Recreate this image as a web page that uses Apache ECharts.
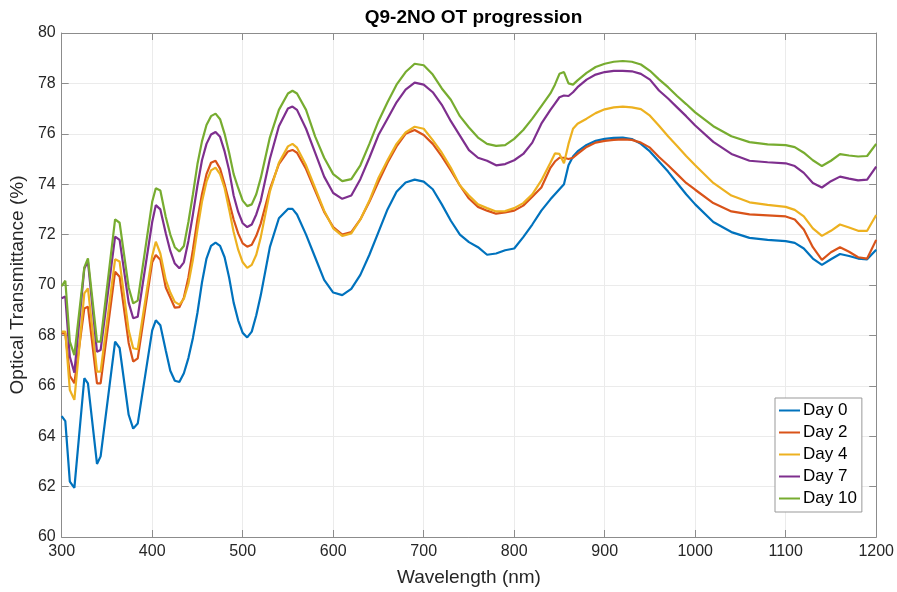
<!DOCTYPE html>
<html>
<head>
<meta charset="utf-8">
<script src="https://cdn.jsdelivr.net/npm/echarts@6/dist/echarts.min.js"></script>
<style>
  html, body { margin: 0; padding: 0; background: #fff; }
  #chart { width: 897px; height: 592px; }
</style>
</head>
<body>
<div id="chart"></div>
<script>
// Wavelength grid (nm) shared by all measurements
const wavelength = [300,304,309,314,325,329,339,343,359,364,374,379,384,400,404,409,415,420,425,430,435,440,445,450,455,460,465,470,475,480,485,490,495,500,505,510,515,520,530,540,550,555,560,570,580,590,600,610,620,630,640,650,660,670,680,690,700,710,720,730,740,750,760,770,780,790,800,810,820,830,840,845,850,855,860,865,870,880,890,900,910,920,930,940,950,960,970,980,990,1000,1020,1040,1060,1080,1100,1110,1120,1130,1140,1150,1160,1170,1180,1190,1200];

// Optical transmittance (%) per measurement day
const day0 = [64.8,64.6,62.2,61.95,66.3,66.1,62.9,63.2,67.75,67.5,64.85,64.3,64.5,68.2,68.6,68.4,67.4,66.6,66.2,66.15,66.5,67.1,67.9,68.9,70.1,71.05,71.55,71.68,71.55,71.1,70.3,69.3,68.6,68.1,67.92,68.15,68.8,69.6,71.5,72.65,73.02,73.02,72.8,72.0,71.1,70.2,69.7,69.6,69.85,70.4,71.2,72.1,73.0,73.7,74.07,74.18,74.1,73.8,73.2,72.55,72.0,71.7,71.5,71.2,71.25,71.38,71.45,71.9,72.4,72.95,73.4,73.6,73.8,74.0,74.75,75.1,75.3,75.56,75.72,75.8,75.84,75.85,75.79,75.6,75.3,74.9,74.5,74.05,73.6,73.2,72.5,72.1,71.87,71.79,71.74,71.67,71.45,71.05,70.8,71.02,71.23,71.15,71.05,71.02,71.4];
const day2 = [68.08,68.08,66.4,66.1,69.07,69.14,66.1,66.1,70.53,70.33,67.7,66.96,67.09,70.9,71.19,71.0,69.9,69.5,69.1,69.12,69.5,70.3,71.4,72.6,73.6,74.4,74.85,74.93,74.62,74.0,73.3,72.6,72.05,71.65,71.52,71.6,71.95,72.45,73.8,74.8,75.3,75.36,75.25,74.6,73.75,72.9,72.3,72.0,72.1,72.6,73.3,74.1,74.85,75.5,76.0,76.15,75.95,75.6,75.1,74.55,73.95,73.43,73.1,72.95,72.83,72.88,72.95,73.15,73.5,73.87,74.65,74.9,75.05,75.05,75.0,75.05,75.2,75.48,75.65,75.72,75.76,75.78,75.76,75.65,75.45,75.08,74.75,74.4,74.05,73.78,73.25,72.92,72.8,72.76,72.72,72.6,72.2,71.5,71.0,71.3,71.5,71.32,71.1,71.05,71.79];
const day4 = [68.15,68.15,65.83,65.44,69.67,69.87,66.56,66.56,71.02,70.93,68.2,67.49,67.45,71.15,71.72,71.25,70.2,69.7,69.33,69.22,69.45,70.05,71.0,72.2,73.3,74.1,74.55,74.66,74.4,73.85,73.0,72.1,71.4,70.9,70.68,70.8,71.2,71.9,73.7,74.85,75.5,75.6,75.45,74.75,73.85,72.95,72.25,71.95,72.05,72.6,73.35,74.25,74.95,75.6,76.05,76.28,76.2,75.75,75.25,74.65,73.95,73.55,73.2,73.05,72.92,72.93,73.05,73.25,73.6,74.15,74.85,75.22,75.2,74.83,75.6,76.2,76.4,76.6,76.82,76.97,77.05,77.08,77.05,76.98,76.72,76.32,75.9,75.52,75.12,74.75,74.05,73.55,73.28,73.18,73.1,72.98,72.72,72.25,71.95,72.15,72.4,72.28,72.15,72.15,72.78];
const day7 = [69.47,69.54,67.15,66.52,70.66,70.93,67.35,67.42,71.92,71.79,69.3,68.68,68.74,72.5,73.17,73.0,72.05,71.35,70.85,70.66,70.9,71.75,72.8,73.95,74.95,75.6,75.97,76.07,75.88,75.3,74.55,73.55,72.9,72.45,72.3,72.4,72.8,73.35,75.0,76.3,77.0,77.08,76.95,76.2,75.25,74.3,73.65,73.42,73.55,74.2,75.05,75.95,76.6,77.25,77.75,78.03,77.95,77.65,77.15,76.5,75.93,75.35,75.05,74.93,74.75,74.8,74.95,75.2,75.65,76.4,76.95,77.2,77.45,77.52,77.5,77.65,77.85,78.15,78.35,78.45,78.5,78.5,78.48,78.38,78.15,77.72,77.4,77.05,76.7,76.33,75.68,75.2,74.93,74.87,74.83,74.72,74.45,74.05,73.87,74.12,74.3,74.22,74.15,74.18,74.7];
const day10 = [69.96,70.17,67.75,67.22,70.7,71.06,67.75,67.75,72.6,72.47,69.9,69.27,69.38,73.3,73.84,73.75,72.7,72.0,71.5,71.33,71.55,72.5,73.6,74.8,75.7,76.35,76.7,76.8,76.58,76.0,75.25,74.4,73.85,73.35,73.13,73.2,73.6,74.25,75.85,76.95,77.6,77.71,77.6,76.95,75.9,75.05,74.4,74.12,74.2,74.75,75.6,76.5,77.25,77.95,78.45,78.78,78.72,78.35,77.8,77.35,76.7,76.25,75.85,75.6,75.52,75.55,75.8,76.15,76.6,77.1,77.6,77.95,78.38,78.45,78.0,77.95,78.12,78.42,78.65,78.78,78.86,78.89,78.86,78.75,78.5,78.16,77.85,77.5,77.18,76.85,76.3,75.9,75.67,75.58,75.55,75.47,75.25,74.95,74.72,74.93,75.19,75.14,75.1,75.12,75.6];

const seriesNames = ['Day 0', 'Day 2', 'Day 4', 'Day 7', 'Day 10'];
const seriesValues = [day0, day2, day4, day7, day10];
const seriesColors = ['#0072BD', '#D95319', '#EDB120', '#7E2F8E', '#77AC30'];

const xTicks = { min: 300, max: 1200, step: 100 };
const yTicks = { min: 60, max: 80, step: 2 };

const FONT = '"Liberation Sans", Arial, Helvetica, sans-serif';
const AXIS_COLOR = '#8c8c8c';
const GRID_COLOR = '#ebebeb';
const TEXT_COLOR = '#262626';

const chart = echarts.init(document.getElementById('chart'), null, { renderer: 'canvas' });

const axisBase = {
  axisLine: { show: true, onZero: false, lineStyle: { color: AXIS_COLOR, width: 1 } },
  axisTick: { show: true, inside: true, length: 7, lineStyle: { color: AXIS_COLOR } },
  splitLine: { show: false }
};

const plainNumber = v => String(v);

chart.setOption({
  animation: false,
  backgroundColor: '#ffffff',
  textStyle: { fontFamily: FONT },
  title: {
    text: 'Q9-2NO OT progression',
    left: 468.5,
    textAlign: 'center',
    top: 3,
    textStyle: { fontFamily: FONT, fontWeight: 'bold', fontSize: 19, color: '#000' }
  },
  grid: { left: 60, right: 20, top: 33, bottom: 55 },
  legend: {
    orient: 'vertical',
    left: 775,
    top: 398,
    itemWidth: 21,
    itemHeight: 14,
    itemGap: 5,
    padding: [4, 5, 5, 3],
    backgroundColor: '#ffffff',
    borderColor: '#999999',
    borderWidth: 1,
    borderRadius: 0,
    itemStyle: { opacity: 0 },
    textStyle: { fontFamily: FONT, fontSize: 17, color: '#000', padding: [0, 0, 0, -2] },
    data: seriesNames
  },
  xAxis: [
    Object.assign({}, axisBase, {
      type: 'value',
      min: xTicks.min, max: xTicks.max, interval: xTicks.step,
      position: 'bottom',
      name: 'Wavelength (nm)',
      nameLocation: 'middle',
      nameGap: 31,
      nameTextStyle: { fontFamily: FONT, fontSize: 19, color: TEXT_COLOR },
      axisLabel: { margin: 7, fontSize: 16, color: TEXT_COLOR, fontFamily: FONT, formatter: plainNumber },
      splitLine: { show: true, lineStyle: { color: GRID_COLOR, width: 1 } }
    }),
    Object.assign({}, axisBase, {
      type: 'value',
      min: xTicks.min, max: xTicks.max, interval: xTicks.step,
      position: 'top',
      axisLabel: { show: false }
    })
  ],
  yAxis: [
    Object.assign({}, axisBase, {
      type: 'value',
      min: yTicks.min, max: yTicks.max, interval: yTicks.step,
      position: 'left',
      name: 'Optical Transmittance (%)',
      nameLocation: 'middle',
      nameGap: 27,
      nameTextStyle: { fontFamily: FONT, fontSize: 19, color: TEXT_COLOR },
      axisLabel: { margin: 6, fontSize: 16, color: TEXT_COLOR, fontFamily: FONT, formatter: plainNumber },
      splitLine: { show: true, lineStyle: { color: GRID_COLOR, width: 1 } }
    }),
    Object.assign({}, axisBase, {
      type: 'value',
      min: yTicks.min, max: yTicks.max, interval: yTicks.step,
      position: 'right',
      axisLabel: { show: false }
    })
  ],
  series: seriesNames.map((name, k) => ({
    name: name,
    type: 'line',
    xAxisIndex: 0,
    yAxisIndex: 0,
    symbol: 'none',
    smooth: false,
    clip: true,
    lineStyle: { color: seriesColors[k], width: 2.2 },
    itemStyle: { color: seriesColors[k] },
    data: wavelength.map((w, i) => [w, seriesValues[k][i]])
  }))
});
</script>
</body>
</html>
